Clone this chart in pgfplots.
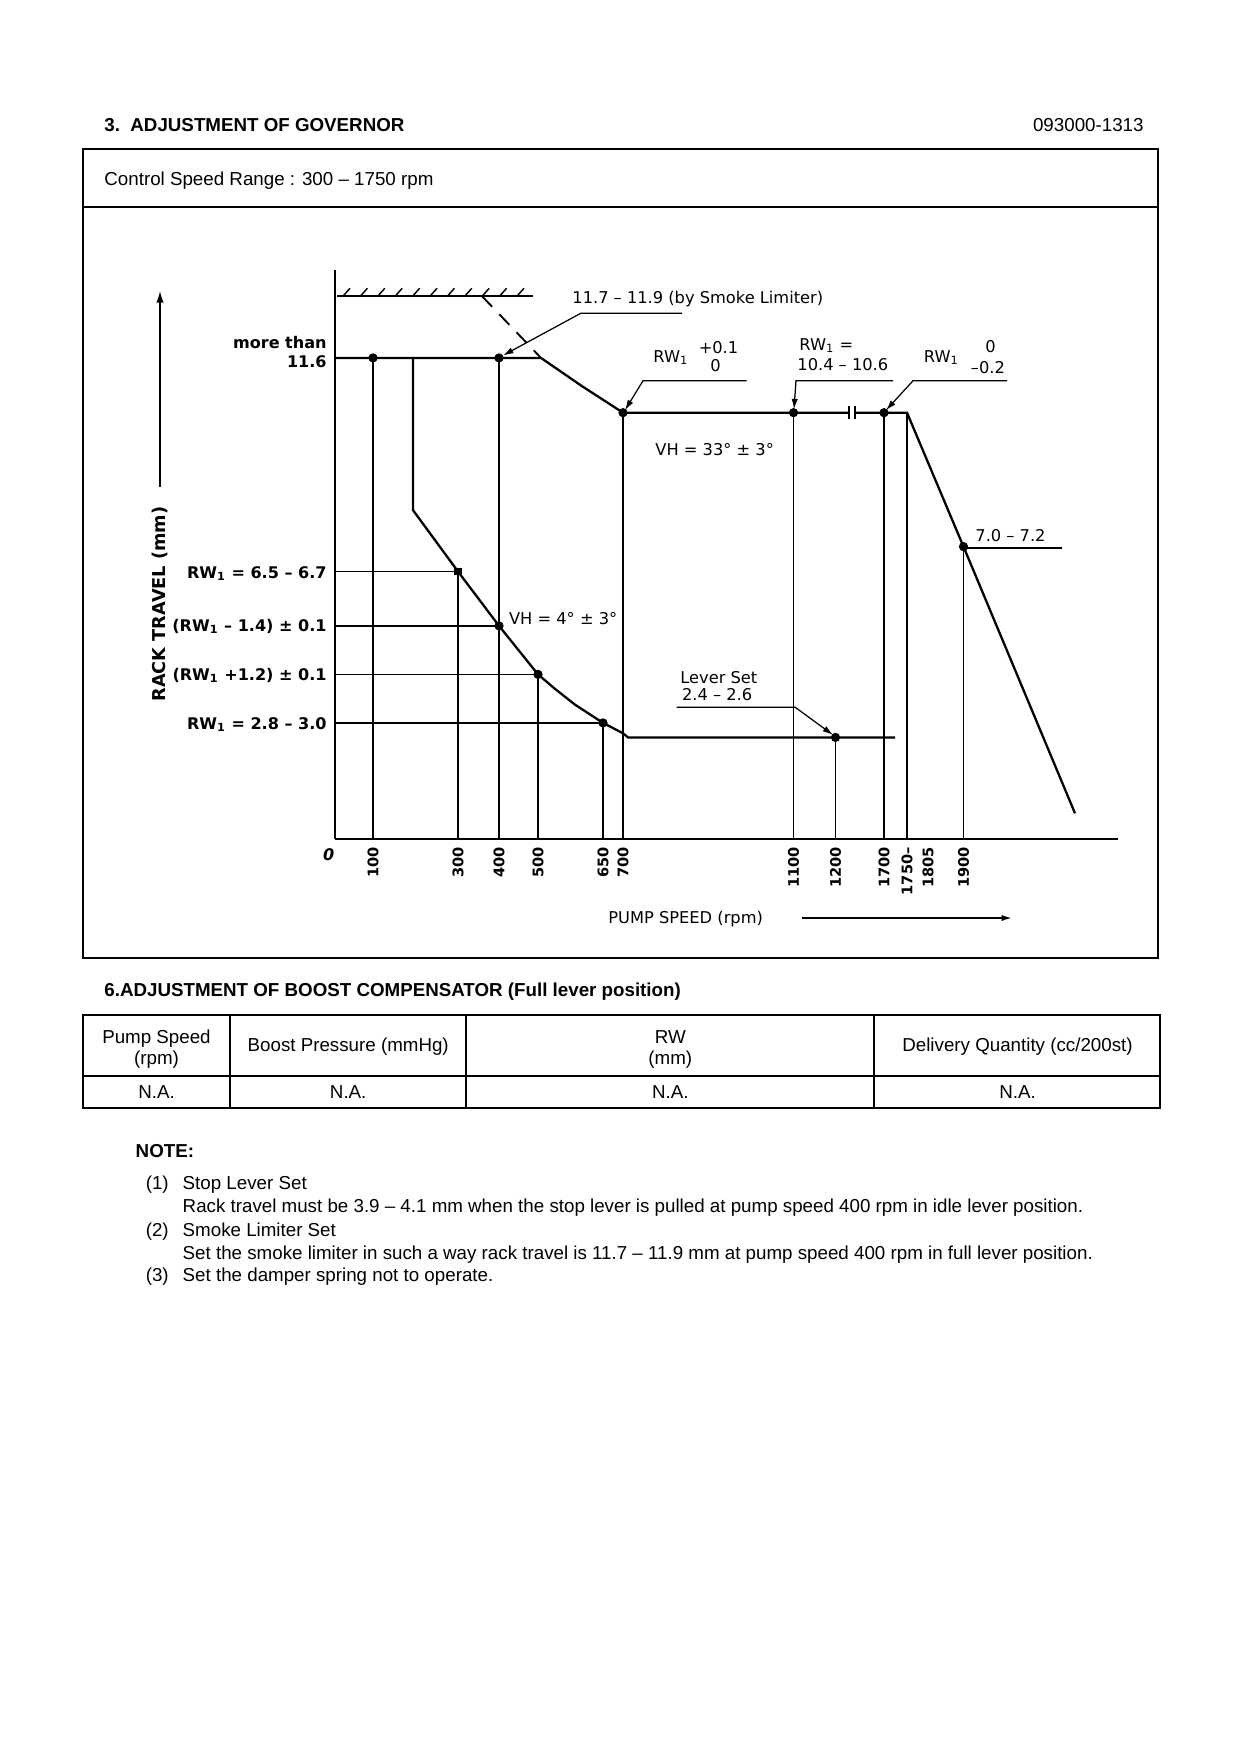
\documentclass[border=0pt]{standalone}
\usepackage{fontspec}
\setmainfont{Liberation Sans}
\newfontfamily\chartfont{DejaVu Sans}
\usepackage{pgfplots}
\pgfplotsset{compat=1.18}
\usetikzlibrary{arrows.meta}
\newcommand\cf{\chartfont\fontsize{7.8}{9}\selectfont}
\newcommand\cfb{\chartfont\bfseries\fontsize{7.7}{9}\selectfont}
\newcommand\tf{\fontsize{9}{11}\selectfont}
\newcommand\RW{RW\textsubscript{1}}
\begin{document}
\begin{tikzpicture}[x=0.48pt,y=-0.48pt]
\fill[white] (0,0) rectangle (1240,1754);
% ---------- header ----------
\node[anchor=base west,inner sep=0pt,font=\tf\bfseries] at (104,131) {3.\ \ ADJUSTMENT OF GOVERNOR};
\node[anchor=base east,inner sep=0pt,font=\tf] at (1144,131) {093000-1313};
\draw[line width=1.2pt] (83,149) rectangle (1158,958);
\draw[line width=1.2pt] (83,207) -- (1158,207);
\node[anchor=base west,inner sep=0pt,font=\tf] at (104,185) {Control Speed Range : 300 – 1750 rpm};
% ---------- chart ----------
\begin{axis}[
  at={(160.8pt,-402.72pt)}, anchor=south west,
  x=0.48pt, y=19.906pt,
  xmin=0, xmax=783, ymin=0, ymax=13.72,
  axis lines=left, axis line style={line width=1pt,-},
  clip=false,
  ytick=\empty,
  xtick={38,123,164,203,268,288,458.5,500.5,549,572,593,628.5},
  xticklabels={100,300,400,500,650,700,1100,1200,1700,1750–,1805,1900},
  major tick length=0pt,
  xticklabel style={rotate=90,anchor=east,inner sep=0pt,font=\chartfont\bfseries\fontsize{7}{8}\selectfont},
  xticklabel shift=3.8pt,
]
% stop (hatched) line
\addplot[line width=0.9pt] coordinates {(2,13.09) (198,13.09)};
\addplot[line width=0.7pt,unbounded coords=jump] coordinates {
 (8,13.09) (15,13.28) (15,nan)
 (25.4,13.09) (32.4,13.28) (32.4,nan)
 (42.8,13.09) (49.8,13.28) (49.8,nan)
 (60.2,13.09) (67.2,13.28) (67.2,nan)
 (77.6,13.09) (84.6,13.28) (84.6,nan)
 (95,13.09) (102,13.28) (102,nan)
 (112.4,13.09) (119.4,13.28) (119.4,nan)
 (129.8,13.09) (136.8,13.28) (136.8,nan)
 (147.2,13.09) (154.2,13.28) (154.2,nan)
 (164.6,13.09) (171.6,13.28) (171.6,nan)
 (182,13.09) (189,13.28)};
% smoke limiter dashed line
\addplot[line width=0.9pt,dash pattern=on 7pt off 5pt] coordinates {(147,13.09) (206,11.6)};
% full load curve
\addplot[line width=1.1pt] coordinates {(0,11.6) (206,11.6) (247,10.92) (288,10.28) (514,10.28)};
\addplot[line width=1.1pt] coordinates {(520,10.28) (572,10.28) (628.5,7.05) (740,0.62)};
\addplot[line width=0.9pt,unbounded coords=jump] coordinates {(514,10.12) (514,10.44) (514,nan) (520,10.12) (520,10.44)};
% idle curve
\addplot[line width=1.1pt] coordinates {(78,11.6) (78,7.93) (123,6.45) (164,5.14) (203,3.97) (220,3.62) (240,3.24) (268,2.80) (288,2.55) (293,2.45) (560,2.45)};
% vertical guide lines
\addplot[line width=0.65pt,unbounded coords=jump] coordinates {
 (38,0) (38,11.6) (38,nan)
 (123,0) (123,6.45) (123,nan)
 (203,0) (203,3.97) (203,nan)
 (268,0) (268,2.80) (268,nan)
 (288,0) (288,10.28) (288,nan)
 (458.5,0) (458.5,10.28) (458.5,nan)
 (628.5,0) (628.5,7.05)};
\addplot[line width=0.9pt,unbounded coords=jump] coordinates {
 (164,0) (164,11.6) (164,nan)
 (549,0) (549,10.28) (549,nan)
 (572,0) (572,10.28) (572,nan)
 (500.5,0) (500.5,2.45)};
% horizontal guide lines
\addplot[line width=0.65pt,unbounded coords=jump] coordinates {
 (0,6.45) (123,6.45) (123,nan)
 (0,5.14) (164,5.14) (164,nan)
 (0,3.97) (203,3.97) (203,nan)
 (0,2.80) (268,2.80)};
% measuring points
\addplot[only marks,mark=*,mark size=2pt] coordinates {(38,11.6) (164,11.6) (164,5.14) (203,3.97) (268,2.80) (288,10.28) (458.5,10.28) (549,10.28) (628.5,7.05) (500.5,2.45)};
\addplot[only marks,mark=square*,mark size=1.6pt] coordinates {(123,6.45)};
% leader lines
\addplot[line width=0.6pt,-{Latex[length=5pt,width=3pt]}] coordinates {(347,12.68) (246,12.68) (168,11.66)};
\addplot[line width=0.6pt,-{Latex[length=5pt,width=3pt]}] coordinates {(411.7,11.05) (308,11.05) (290,10.34)};
\addplot[line width=0.6pt,-{Latex[length=5pt,width=3pt]}] coordinates {(558,11.05) (461,11.05) (459,10.36)};
\addplot[line width=0.6pt,-{Latex[length=5pt,width=3pt]}] coordinates {(672,11.05) (578,11.05) (551,10.34)};
\addplot[line width=0.6pt] coordinates {(628.5,7.02) (727,7.02)};
\addplot[line width=0.6pt,-{Latex[length=5pt,width=3pt]}] coordinates {(341.7,3.18) (460,3.18) (498,2.51)};
\end{axis}
% chart texts
\node[anchor=base east,inner sep=0pt,font=\cfb] at (327,348) {more than};
\node[anchor=base east,inner sep=0pt,font=\cfb] at (327,367) {11.6};
\node[anchor=base east,inner sep=0pt,font=\cfb] at (327,578) {\RW\ = 6.5 – 6.7};
\node[anchor=base east,inner sep=0pt,font=\cfb] at (327,631) {(\RW\ – 1.4) ± 0.1};
\node[anchor=base east,inner sep=0pt,font=\cfb] at (327,680) {(\RW\ +1.2) ± 0.1};
\node[anchor=base east,inner sep=0pt,font=\cfb] at (327,729) {\RW\ = 2.8 – 3.0};
\node[rotate=90,inner sep=0pt,font=\chartfont\bfseries\fontsize{8.5}{10}\selectfont] at (160,604) {RACK TRAVEL (mm)};
\draw[line width=1pt,-{Latex[length=6pt,width=3.5pt]}] (160,487) -- (160,290);
\node[anchor=base west,inner sep=0pt,font=\cf] at (572,303) {11.7 – 11.9 (by Smoke Limiter)};
\node[anchor=base west,inner sep=0pt,font=\cf] at (653,362) {\RW};
\node[anchor=base,inner sep=0pt,font=\cf] at (718.5,353.5) {+0.1};
\node[anchor=base,inner sep=0pt,font=\cf] at (715.6,371) {0};
\node[anchor=base west,inner sep=0pt,font=\cf] at (799,350) {\RW\ =};
\node[anchor=base west,inner sep=0pt,font=\cf] at (797,370) {10.4 – 10.6};
\node[anchor=base west,inner sep=0pt,font=\cf] at (923.5,362) {\RW};
\node[anchor=base,inner sep=0pt,font=\cf] at (990.6,352) {0};
\node[anchor=base west,inner sep=0pt,font=\cf] at (970.5,373) {–0.2};
\node[anchor=base west,inner sep=0pt,font=\cf] at (655,455) {VH = 33° ± 3°};
\node[anchor=base west,inner sep=0pt,font=\cf] at (975,541.5) {7.0 – 7.2};
\node[anchor=base west,inner sep=0pt,font=\cf] at (508.7,624) {VH = 4° ± 3°};
\node[anchor=base west,inner sep=0pt,font=\cf] at (680,683) {Lever Set};
\node[anchor=base west,inner sep=0pt,font=\cf] at (681.7,700) {2.4 – 2.6};
\node[anchor=base,inner sep=0pt,font=\cfb\itshape] at (328.7,860) {0};
\node[anchor=base west,inner sep=0pt,font=\cf] at (608,923) {PUMP SPEED (rpm)};
\draw[line width=0.8pt,-{Latex[length=5pt,width=3pt]}] (802,918) -- (1012,918);
% ---------- boost compensator ----------
\node[anchor=base west,inner sep=0pt,font=\tf\bfseries] at (104,996.5) {6.ADJUSTMENT OF BOOST COMPENSATOR (Full lever position)};
\draw[line width=0.9pt] (83,1015) rectangle (1160,1108);
\draw[line width=0.9pt] (83,1075.6) -- (1160,1075.6);
\draw[line width=0.9pt] (230.3,1015) -- (230.3,1108);
\draw[line width=0.9pt] (466.2,1015) -- (466.2,1108);
\draw[line width=0.9pt] (874.4,1015) -- (874.4,1108);
\node[anchor=base,inner sep=0pt,font=\tf] at (156.5,1043) {Pump Speed};
\node[anchor=base,inner sep=0pt,font=\tf] at (156.5,1064) {(rpm)};
\node[anchor=base,inner sep=0pt,font=\tf] at (348.2,1051) {Boost Pressure (mmHg)};
\node[anchor=base,inner sep=0pt,font=\tf] at (670.3,1043) {RW};
\node[anchor=base,inner sep=0pt,font=\tf] at (670.3,1064) {(mm)};
\node[anchor=base,inner sep=0pt,font=\tf] at (1017.5,1051) {Delivery Quantity (cc/200st)};
\node[anchor=base,inner sep=0pt,font=\tf] at (156.5,1098) {N.A.};
\node[anchor=base,inner sep=0pt,font=\tf] at (348.2,1098) {N.A.};
\node[anchor=base,inner sep=0pt,font=\tf] at (670.3,1098) {N.A.};
\node[anchor=base,inner sep=0pt,font=\tf] at (1017.5,1098) {N.A.};
% ---------- notes ----------
\node[anchor=base west,inner sep=0pt,font=\tf\bfseries] at (135.3,1157.5) {NOTE:};
\node[anchor=base west,inner sep=0pt,font=\tf] at (145.4,1189) {(1)};
\node[anchor=base west,inner sep=0pt,font=\tf] at (182.3,1189) {Stop Lever Set};
\node[anchor=base west,inner sep=0pt,font=\tf] at (182.3,1212.4) {Rack travel must be 3.9 – 4.1 mm when the stop lever is pulled at pump speed 400 rpm in idle lever position.};
\node[anchor=base west,inner sep=0pt,font=\tf] at (145.4,1236) {(2)};
\node[anchor=base west,inner sep=0pt,font=\tf] at (182.3,1236) {Smoke Limiter Set};
\node[anchor=base west,inner sep=0pt,font=\tf] at (182.3,1259.4) {Set the smoke limiter in such a way rack travel is 11.7 – 11.9 mm at pump speed 400 rpm in full lever position.};
\node[anchor=base west,inner sep=0pt,font=\tf] at (145.4,1281.8) {(3)};
\node[anchor=base west,inner sep=0pt,font=\tf] at (182.3,1281.8) {Set the damper spring not to operate.};
\end{tikzpicture}
\end{document}
